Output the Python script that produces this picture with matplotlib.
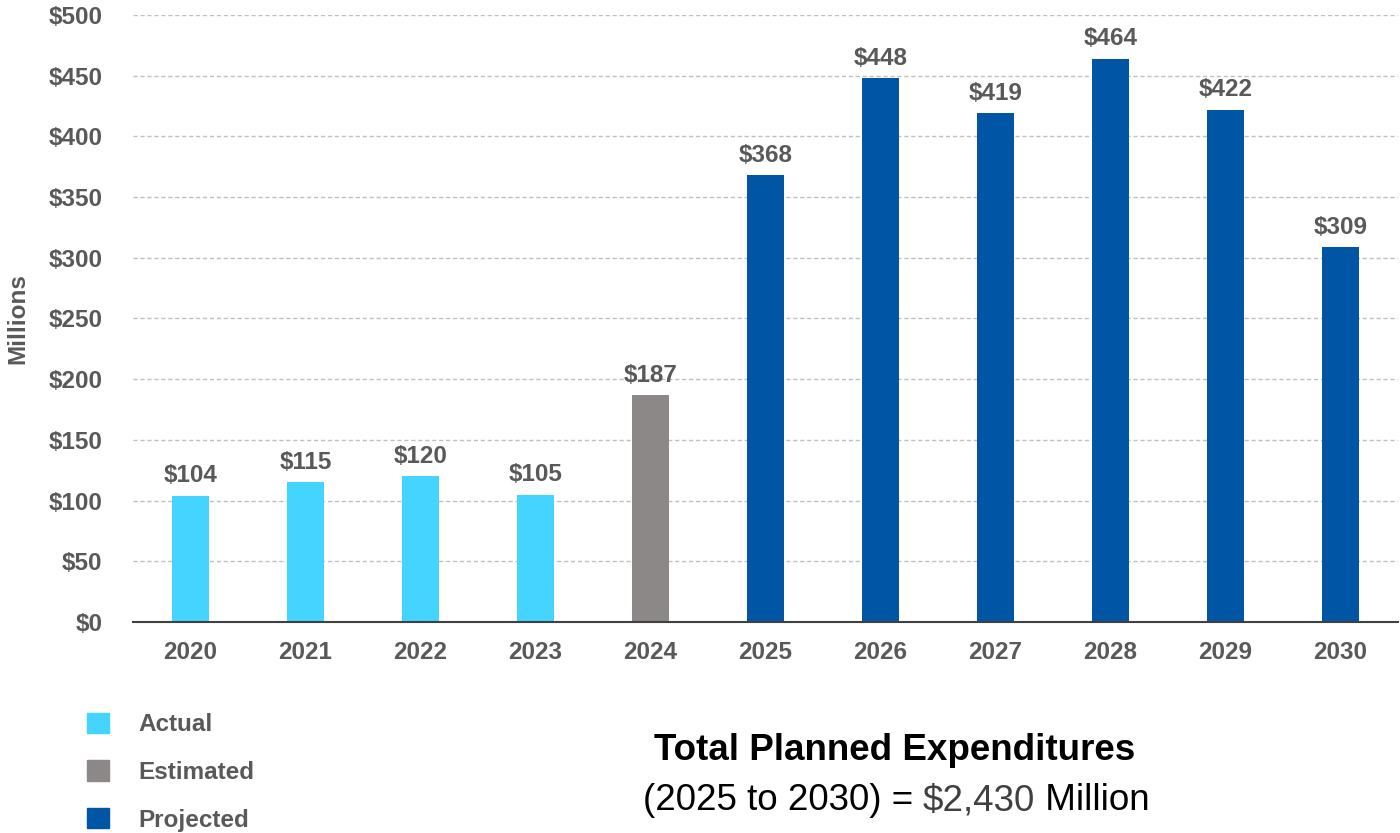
import matplotlib.pyplot as plt
from matplotlib.patches import Patch

plt.rcParams['font.family'] = ['Liberation Sans', 'DejaVu Sans']

years = ['2020', '2021', '2022', '2023', '2024', '2025', '2026', '2027', '2028', '2029', '2030']
values = [104, 115, 120, 105, 187, 368, 448, 419, 464, 422, 309]
status = ['Actual', 'Actual', 'Actual', 'Actual', 'Estimated',
          'Projected', 'Projected', 'Projected', 'Projected', 'Projected', 'Projected']
yticks = [0, 50, 100, 150, 200, 250, 300, 350, 400, 450, 500]

colours = {'Actual': '#45D4FF', 'Estimated': '#8C8888', 'Projected': '#0055A5'}
grey = '#595959'

fig = plt.figure(figsize=(14, 8.33), dpi=100)
ax = fig.add_axes([0.095, 0.2533, 0.9036, 0.7287])

x = list(range(len(years)))
bars = ax.bar(x, values, width=0.32, color=[colours[s] for s in status], zorder=3)

for xi, v in zip(x, values):
    ax.annotate(f'${v}', (xi, v), xytext=(0, 6), textcoords='offset points',
                ha='center', va='bottom', fontsize=17.5, fontweight='bold', color=grey)

ax.set_xlim(-0.5, len(years) - 0.5)
ax.set_ylim(0, 500)
ax.set_yticks(yticks)
ax.set_yticklabels([f'${t}' for t in yticks])
ax.set_xticks(x)
ax.set_xticklabels(years)
ax.tick_params(axis='y', length=0, pad=22, labelsize=17.5, labelcolor=grey)
ax.tick_params(axis='x', length=0, pad=14, labelsize=17.5, labelcolor=grey)
for lab in ax.get_xticklabels() + ax.get_yticklabels():
    lab.set_fontweight('bold')

ax.yaxis.grid(True, linestyle=(0, (3, 2)), color='#BFBFBF', linewidth=1, zorder=0)
for s in ['top', 'right', 'left']:
    ax.spines[s].set_visible(False)
ax.spines['bottom'].set_color('#404040')
ax.spines['bottom'].set_linewidth(1.5)
ax.spines['bottom'].set_zorder(4)

fig.text(0.013, 0.618, 'Millions', rotation=90, ha='center', va='center',
         fontsize=17.5, fontweight='bold', color=grey)

handles = [Patch(color=colours[k]) for k in ['Actual', 'Estimated', 'Projected']]
fig.legend(handles, ['Actual', 'Estimated', 'Projected'], loc='upper left',
           bbox_to_anchor=(0.0535, 0.159), frameon=False, fontsize=17.5,
           handlelength=0.9, handleheight=0.9, handletextpad=1.2, labelspacing=1.0,
           borderpad=0, labelcolor=grey, prop={'weight': 'bold', 'size': 17.5})

fig.text(0.639, 0.099, 'Total Planned Expenditures', ha='center', va='center',
         fontsize=26.5, fontweight='bold', color='black')
total = sum(v for v, s in zip(values, status) if s == 'Projected')
line2_y = 0.039
t1 = fig.text(0.459, line2_y, '(2025 to 2030) = ', ha='left', va='center', fontsize=26.5, color='black')
fig.canvas.draw()
bb = t1.get_window_extent().transformed(fig.transFigure.inverted())
t2 = fig.text(bb.x1, line2_y, f'${total:,}', ha='left', va='center', fontsize=26.5, color='#404040')
fig.canvas.draw()
bb2 = t2.get_window_extent().transformed(fig.transFigure.inverted())
fig.text(bb2.x1, line2_y, ' Million', ha='left', va='center', fontsize=26.5, color='black')

fig.savefig('out.png', dpi=100)
